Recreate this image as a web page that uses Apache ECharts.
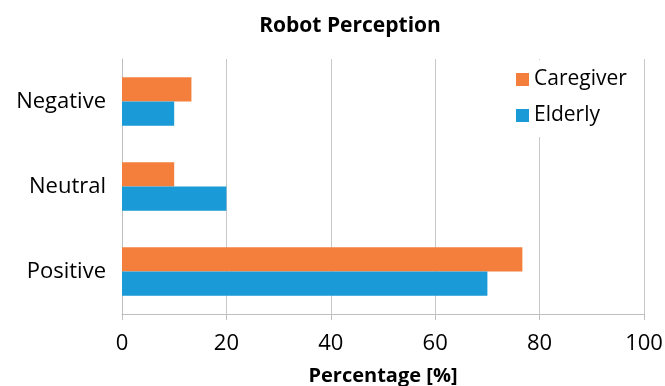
<!DOCTYPE html>
<html>
<head>
<meta charset="utf-8">
<script src="https://cdn.jsdelivr.net/npm/echarts@6/dist/echarts.min.js"></script>
<style>
  html, body { margin: 0; padding: 0; background: #fff; }
  #chart { width: 665px; height: 386px; }
</style>
</head>
<body>
<div id="chart"></div>
<script>
// Robot perception survey, share of responses per group
const categories = ['Positive', 'Neutral', 'Negative'];
const caregiver = [76.7, 10, 13.3];
const elderly = [70, 20, 10];
const xTicks = [0, 20, 40, 60, 80, 100];

const FONT = '"Open Sans", "Noto Sans", sans-serif';
const chart = echarts.init(document.getElementById('chart'), null, { renderer: 'canvas' });

chart.setOption({
  animation: false,
  backgroundColor: '#ffffff',
  title: {
    text: 'Robot Perception',
    left: 350,
    textAlign: 'center',
    top: 16,
    padding: 0,
    textStyle: { fontFamily: FONT, fontWeight: 'bold', fontSize: 21, color: '#000' }
  },
  legend: {
    data: ['Caregiver', 'Elderly'],
    orient: 'vertical',
    left: 505,
    top: 60,
    itemWidth: 13,
    itemHeight: 13,
    itemGap: 15,
    icon: 'rect',
    backgroundColor: '#ffffff',
    padding: [9, 10, 11, 11],
    textStyle: { fontFamily: FONT, fontSize: 21, color: '#000' }
  },
  grid: {
    left: 122, right: 21, top: 59, bottom: 72,
    containLabel: false,
    outerBoundsMode: 'none'
  },
  xAxis: {
    type: 'value',
    min: xTicks[0],
    max: xTicks[xTicks.length - 1],
    interval: 20,
    name: 'Percentage [%]',
    nameLocation: 'middle',
    nameGap: 52,
    nameTextStyle: { fontFamily: FONT, fontWeight: 'bold', fontSize: 20, color: '#000' },
    axisLine: { show: true, lineStyle: { color: '#bfbfbf', width: 1 } },
    axisTick: { show: true, length: 6, lineStyle: { color: '#bfbfbf' } },
    axisLabel: { fontFamily: FONT, fontSize: 22, color: '#000', margin: 19 },
    splitLine: { show: true, lineStyle: { color: '#c8c8c8', width: 1 } }
  },
  yAxis: {
    type: 'category',
    data: categories,
    axisLine: { show: true, lineStyle: { color: '#bfbfbf', width: 1 } },
    axisTick: { show: false },
    axisLabel: { fontFamily: FONT, fontSize: 22, color: '#000', margin: 16 }
  },
  series: [
    {
      name: 'Caregiver',
      type: 'bar',
      data: caregiver,
      barGap: '0%',
      barCategoryGap: '43%',
      itemStyle: { color: '#f47f3d' }
    },
    {
      name: 'Elderly',
      type: 'bar',
      data: elderly,
      barGap: '0%',
      barCategoryGap: '43%',
      itemStyle: { color: '#1a9ad6' }
    }
  ]
});
</script>
</body>
</html>
